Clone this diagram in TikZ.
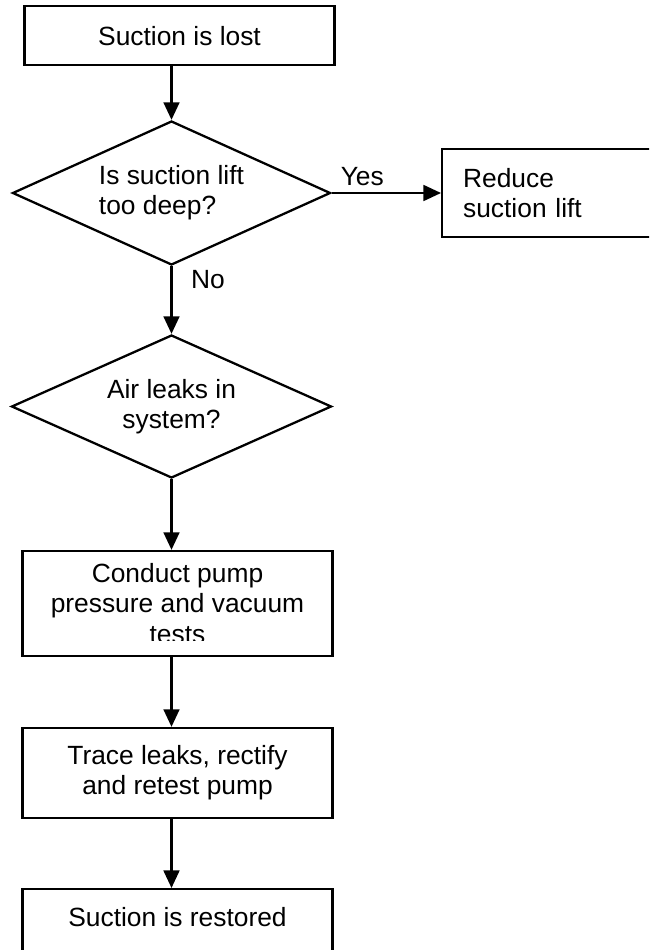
\documentclass[tikz,border=0pt]{standalone}
\usepackage{fontspec}
\setmainfont{Liberation Sans}
\usepackage{tikz}
\usetikzlibrary{arrows.meta,shapes.geometric}

\begin{document}
\begin{tikzpicture}[font=\fontsize{15pt}{17.2pt}\selectfont,
        box/.style={draw,line width=1.3pt,align=center,minimum width=6.2cm,inner sep=0pt},
        decision/.style={draw,diamond,aspect=2.2,line width=1.3pt,align=center,inner sep=0pt,
                         minimum width=6.36cm,minimum height=2.88cm},
        flow/.style={line width=1.3pt,-{Triangle[length=10pt,width=9pt]}}]
                \useasboundingbox (0,0) rectangle (12.98,-19);
                \clip (0,0) rectangle (12.98,-19);

                \node[box,minimum height=1.18cm] (lost) at (3.59,-0.716) {Suction is lost};
                \node[decision,align=left] (lift) at (3.43,-3.86) {Is suction lift\\too deep?};
                \node[box,anchor=west,align=left,minimum width=4.4cm,minimum height=1.76cm,text width=3.56cm,inner xsep=0.42cm] (reduce) at (8.82,-3.86) {Reduce\\suction lift};
                \node[decision,minimum width=6.4cm,minimum height=2.86cm] (leaks) at (3.43,-8.13) {Air leaks in\\system?};
                \node[box,minimum height=2.1cm] (tests) at (3.55,-12.07) {Conduct pump\\pressure and vacuum\\tests};
                \node[box,minimum height=1.8cm] (trace) at (3.55,-15.46) {Trace leaks, rectify\\and retest pump};
                \node[box,anchor=north,text height=0.74cm,text depth=1cm] (restored) at (3.55,-17.76) {Suction is restored};

                % last line of the tests box is cut off
                \fill[white] (0.5,-12.81) rectangle (6.6,-13.07);

                \draw[flow] (lift.north |- lost.south) -- (lift.north);
                \draw[flow] (lift.east) -- node[above,pos=0.28] (yes) {Yes} (reduce.west);
                \draw[flow] (lift.south) -- node[right,pos=0.2,xshift=0.25cm] (no) {No} (leaks.north);
                \draw[flow] (leaks.south) -- (leaks.south |- tests.north);
                \draw[flow] (leaks.south |- tests.south) -- (leaks.south |- trace.north);
                \draw[flow] (leaks.south |- trace.south) -- (leaks.south |- restored.north);
\end{tikzpicture}
\end{document}
